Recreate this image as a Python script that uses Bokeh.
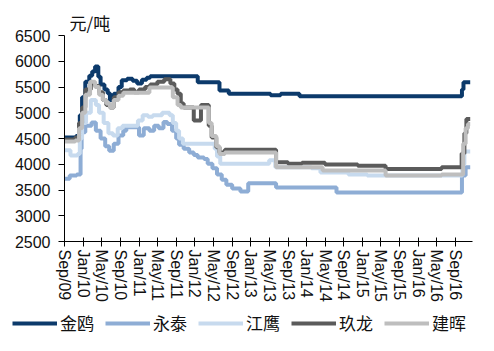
import pandas as pd
from bokeh.plotting import figure
from bokeh.layouts import column
from bokeh.models import (FixedTicker, DatetimeTickFormatter, Range1d, Legend,
                          LegendItem)
from bokeh.embed import file_html
from bokeh.resources import INLINE

# ---------------- data (change points, step series) ----------------
names = ["金鸥", "永泰", "江鹰", "玖龙", "建晖"]
colors = ["#0C3A6B", "#8EADD5", "#C7DAEE", "#5B5B5B", "#BEBEBE"]

jinou_dates = ["2009-09-01", "2009-11-15", "2009-12-10", "2009-12-25", "2010-01-15",
               "2010-02-10", "2010-03-01", "2010-03-20", "2010-04-10", "2010-04-25",
               "2010-05-20", "2010-06-10", "2010-06-25", "2010-07-20", "2010-08-20",
               "2010-09-10", "2010-10-15", "2010-11-20", "2010-12-20", "2011-01-20",
               "2011-02-20", "2011-03-15", "2012-01-20", "2012-06-10", "2012-08-10",
               "2013-05-10", "2013-07-15", "2013-11-15", "2016-10-12", "2016-10-22",
               "2016-12-05"]
jinou = [4520, 4550, 4950, 5300, 5600,
         5720, 5800, 5900, 5700, 5550,
         5450, 5380, 5250, 5370, 5500,
         5630, 5660, 5620, 5570, 5640,
         5680, 5710, 5590, 5430, 5370,
         5340, 5370, 5320, 5450, 5590,
         5590]

yongtai_dates = ["2009-09-01", "2009-10-05", "2009-11-20", "2009-12-15", "2009-12-22",
                 "2010-01-15", "2010-02-25", "2010-03-25", "2010-04-25", "2010-05-25",
                 "2010-06-20", "2010-07-20", "2010-08-20", "2010-09-20", "2010-10-10",
                 "2011-01-01", "2011-02-01", "2011-03-10", "2011-04-10", "2011-05-10",
                 "2011-06-10", "2011-07-05", "2011-08-05", "2011-09-01", "2011-09-20",
                 "2011-10-20", "2011-11-25", "2011-12-25", "2012-01-20", "2012-03-01",
                 "2012-03-25", "2012-04-25", "2012-05-25", "2012-06-25", "2012-07-25",
                 "2012-09-01", "2012-10-25", "2012-12-15", "2013-06-15", "2014-07-15",
                 "2016-10-12", "2016-11-05", "2016-12-05"]
yongtai = [3720, 3780, 3800, 4300, 4620,
           4750, 4810, 4650, 4500, 4350,
           4260, 4400, 4560, 4650, 4720,
           4560, 4700, 4650, 4750, 4700,
           4820, 4780, 4650, 4500, 4380,
           4300, 4230, 4180, 4130, 4100,
           4010, 3920, 3800, 3700, 3600,
           3530, 3470, 3630, 3550, 3450,
           3780, 3940, 3940]

jiangying_dates = ["2009-09-01", "2009-10-10", "2009-11-25", "2009-12-10", "2009-12-25",
                   "2010-01-20", "2010-02-20", "2010-03-25", "2010-04-15", "2010-05-15",
                   "2010-06-15", "2010-07-15", "2010-08-15", "2010-09-15", "2010-12-25",
                   "2011-01-25", "2011-03-01", "2011-04-01", "2011-06-01", "2011-07-20",
                   "2011-08-10", "2011-09-01", "2011-09-20", "2011-10-15", "2012-05-10",
                   "2012-05-25", "2012-06-15", "2013-05-01", "2013-06-10", "2014-02-01",
                   "2014-04-01", "2014-10-01", "2015-02-01", "2016-10-15", "2016-10-28",
                   "2016-12-05"]
jiangying = [4270, 4170, 4200, 4500, 4800,
             5000, 5250, 5150, 5000, 4800,
             4600, 4560, 4700, 4750, 4850,
             4950, 4920, 4950, 5000, 4950,
             4800, 4650, 4500, 4400, 4300,
             4150, 4010, 4080, 3940, 3920,
             3840, 3800, 3780, 4000, 4250,
             4250]

jiulong_dates = ["2009-09-01", "2009-11-10", "2009-12-05", "2009-12-25", "2010-01-15",
                 "2010-02-20", "2010-03-20", "2010-04-15", "2010-05-10", "2010-06-01",
                 "2010-06-25", "2010-07-20", "2010-08-20", "2010-09-20", "2010-11-01",
                 "2010-12-01", "2011-01-01", "2011-02-10", "2011-03-15", "2011-05-01",
                 "2011-06-15", "2011-07-25", "2011-08-20", "2011-09-10", "2011-10-01",
                 "2011-10-20", "2011-12-25", "2012-02-10", "2012-04-01", "2012-04-20",
                 "2012-05-20", "2012-06-10", "2012-07-15", "2013-06-15", "2013-09-01",
                 "2013-12-01", "2014-05-01", "2014-12-01", "2015-06-01", "2016-06-01",
                 "2016-10-10", "2016-10-28", "2016-11-10", "2016-12-05"]
jiulong = [4480, 4520, 4800, 5100, 5450,
           5570, 5520, 5400, 5250, 5150,
           5100, 5300, 5400, 5430, 5450,
           5400, 5450, 5500, 5550, 5600,
           5650, 5570, 5450, 5370, 5180,
           5100, 4850, 5150, 4750, 4520,
           4330, 4230, 4280, 4040, 4010,
           4030, 3995, 3970, 3910, 3940,
           4210, 4600, 4880, 4880]

jianhui_dates = ["2009-09-01", "2009-11-10", "2009-12-05", "2009-12-25", "2010-01-15",
                 "2010-02-15", "2010-03-20", "2010-04-15", "2010-05-10", "2010-06-01",
                 "2010-06-25", "2010-07-20", "2010-08-20", "2010-09-20", "2011-03-10",
                 "2011-07-20", "2011-08-10", "2011-09-10", "2011-10-01", "2012-04-01",
                 "2012-04-20", "2012-05-20", "2012-06-10", "2012-07-15", "2013-06-15",
                 "2014-04-15", "2015-06-01", "2016-06-01", "2016-10-20", "2016-11-05",
                 "2016-11-20", "2016-12-05"]
jianhui = [4440, 4460, 4700, 5000, 5350,
           5600, 5500, 5350, 5250, 5180,
           5100, 5250, 5330, 5390, 5490,
           5490, 5300, 5150, 5100, 4800,
           4550, 4350, 4200, 4230, 3940,
           3880, 3780, 3800, 4400, 4700,
           4780, 4780]

y_ticks = [2500, 3000, 3500, 4000, 4500, 5000, 5500, 6000, 6500]
x_tick_dates = pd.date_range("2009-09-01", "2016-09-01", freq="4MS")
unit_label = "元/吨"

series = [(jinou_dates, jinou), (yongtai_dates, yongtai), (jiangying_dates, jiangying),
          (jiulong_dates, jiulong), (jianhui_dates, jianhui)]

# ---------------- main figure ----------------
x_start = pd.Timestamp("2009-09-01")
x_end = pd.Timestamp("2016-12-20")

p = figure(width=494, height=311, x_axis_type="datetime",
           output_backend="svg", toolbar_location=None,
           x_range=Range1d(x_start, x_end), y_range=Range1d(2500, 6500),
           min_border_left=64, min_border_right=22, min_border_top=35,
           min_border_bottom=70, title=unit_label)
p.frame_align = False

p.outline_line_color = None
p.grid.visible = False
p.background_fill_color = "white"
p.border_fill_color = "white"

p.title.text_font = "Noto Sans CJK SC"
p.title.text_font_size = "17px"
p.title.text_font_style = "normal"
p.title.text_color = "#111111"
p.title.offset = 5
p.title.standoff = 1
p.title.align = "left"

for (d, v), c in zip(series, colors):
    p.step(pd.to_datetime(d), v, mode="after", line_color=c, line_width=4)

xa = p.xaxis[0]
xa.ticker = FixedTicker(ticks=[t.timestamp() * 1000 for t in x_tick_dates])
fmt = "%b/%y"
xa.formatter = DatetimeTickFormatter(years=fmt, months=fmt, days=fmt, hours=fmt,
                                     hourmin=fmt, minutes=fmt, minsec=fmt,
                                     seconds=fmt, milliseconds=fmt, microseconds=fmt)
xa.major_label_orientation = "vertical"
xa.major_label_text_font = "Liberation Sans"
xa.major_label_text_font_size = "16px"
xa.major_label_text_color = "#111111"
xa.major_label_standoff = 3
xa.major_tick_in = 4
xa.major_tick_out = 5
xa.minor_tick_line_color = None
xa.axis_line_color = "black"
xa.major_tick_line_color = "black"

ya = p.yaxis[0]
ya.ticker = FixedTicker(ticks=y_ticks)
ya.major_label_text_font = "Liberation Sans"
ya.major_label_text_font_size = "16px"
ya.major_label_text_color = "#111111"
ya.major_label_standoff = 8
ya.major_tick_in = 0
ya.major_tick_out = 6
ya.minor_tick_line_color = None
ya.axis_line_color = "black"
ya.major_tick_line_color = "black"

# ---------------- legend strip (same series, ranges keep the lines out of view) ----
lg = figure(width=494, height=40, output_backend="svg", toolbar_location=None,
            x_axis_location=None, y_axis_location=None, x_axis_type="datetime",
            x_range=Range1d(x_start, x_end), y_range=Range1d(0, 1),
            min_border=0, min_border_left=0, min_border_right=0,
            min_border_top=0, min_border_bottom=0)
lg.frame_align = False
lg.grid.visible = False
lg.outline_line_color = None
lg.border_fill_color = "white"
lg.background_fill_color = "white"

items = []
for (d, v), name, c in zip(series, names, colors):
    r = lg.step(pd.to_datetime(d), v, mode="after", line_color=c, line_width=4)
    items.append(LegendItem(label=name, renderers=[r]))

legend = Legend(items=items, orientation="horizontal", location=(12, 16),
                glyph_width=45, glyph_height=20, label_standoff=3, spacing=11,
                padding=0, margin=0, border_line_color=None,
                background_fill_alpha=0,
                label_text_font="Noto Sans CJK SC", label_text_font_size="17px",
                label_text_color="#111111")
lg.add_layout(legend)

layout = column(p, lg, spacing=0)
open("out.html", "w").write(file_html(layout, INLINE))
